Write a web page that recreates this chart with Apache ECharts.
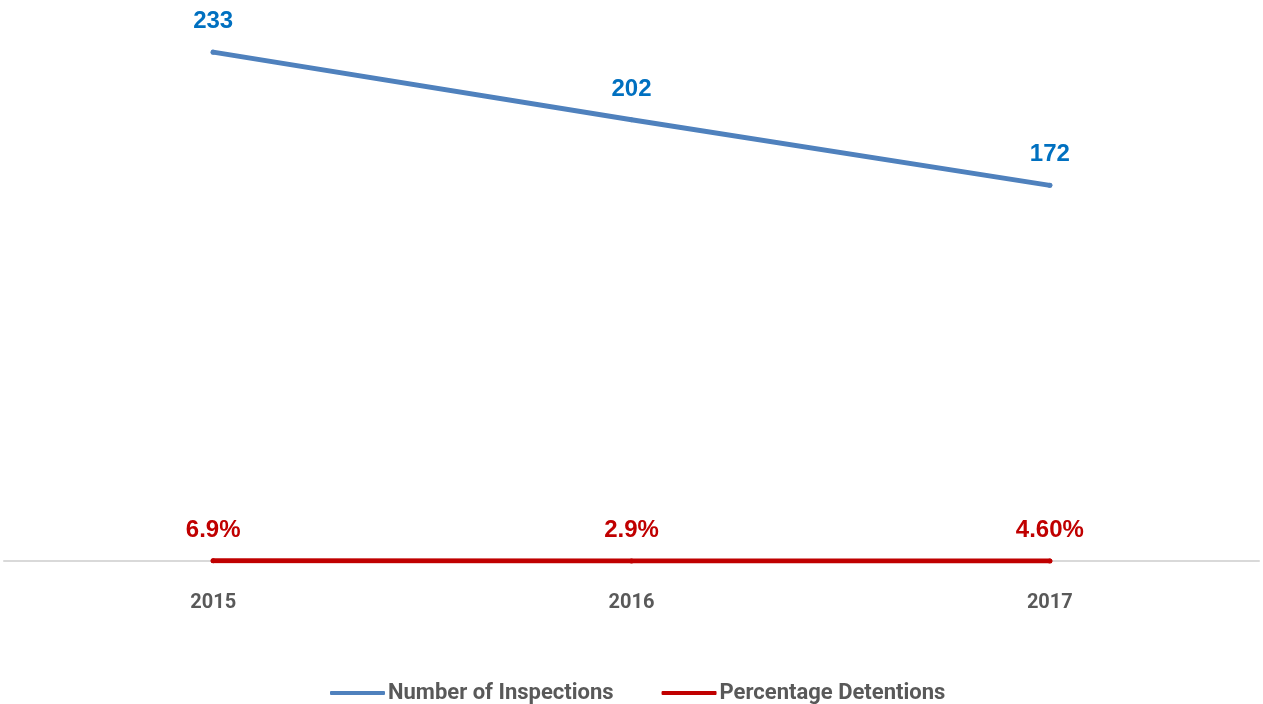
<!DOCTYPE html>
<html>
<head>
<meta charset="utf-8">
<script src="https://cdn.jsdelivr.net/npm/echarts@6/dist/echarts.min.js"></script>
<style>
  html, body { margin: 0; padding: 0; background: #fff; }
  #myChart { width: 1263px; height: 704px; }
</style>
</head>
<body>
<div id="myChart"></div>
<script>
// 数据
var years = ['2015', '2016', '2017'];
var inspections = [233, 202, 172];
var detentions = [0.069, 0.029, 0.046];
var detentionLabels = ['6.9%', '2.9%', '4.60%'];

var myChart = echarts.init(document.getElementById('myChart'));
myChart.setOption({
    animation: false,
    grid: { left: 4, right: 4, top: 15, bottom: 143 },
    legend: {
        top: 677,
        left: 325,
        icon: 'roundRect',
        itemWidth: 55,
        itemHeight: 4,
        itemGap: 48,
        textStyle: {
            color: '#595959',
            fontSize: 22,
            fontWeight: 'bold',
            fontFamily: 'Roboto, sans-serif',
            padding: [0, 0, 0, -2]
        },
        data: ['Number of Inspections', 'Percentage Detentions']
    },
    xAxis: {
        type: 'category',
        data: years,
        boundaryGap: true,
        axisTick: { show: false },
        axisLine: { lineStyle: { color: '#d9d9d9', width: 2 } },
        axisLabel: {
            margin: 32,
            color: '#595959',
            fontSize: 20,
            fontWeight: 'bold',
            fontFamily: 'Roboto, sans-serif'
        }
    },
    yAxis: {
        type: 'value',
        min: 0,
        max: 250,
        show: false,
        splitLine: { show: false }
    },
    series: [
        {
            name: 'Number of Inspections',
            type: 'line',
            data: inspections,
            symbol: 'circle',
            symbolSize: 5,
            color: '#4f81bd',
            itemStyle: { color: '#4f81bd' },
            lineStyle: { width: 5, color: '#4f81bd', cap: 'round' },
            label: {
                show: true,
                position: 'top',
                distance: 16,
                color: '#0070c0',
                fontSize: 24,
                fontWeight: 'bold',
                fontFamily: 'Liberation Sans, Arial, sans-serif'
            }
        },
        {
            name: 'Percentage Detentions',
            type: 'line',
            data: detentions,
            symbol: 'circle',
            symbolSize: 5,
            color: '#c00000',
            itemStyle: { color: '#c00000' },
            lineStyle: { width: 5, color: '#c00000', cap: 'round' },
            label: {
                show: true,
                position: 'top',
                distance: 16,
                color: '#c00000',
                fontSize: 24,
                fontWeight: 'bold',
                fontFamily: 'Liberation Sans, Arial, sans-serif',
                formatter: function (p) { return detentionLabels[p.dataIndex]; }
            }
        }
    ]
});
</script>
</body>
</html>
